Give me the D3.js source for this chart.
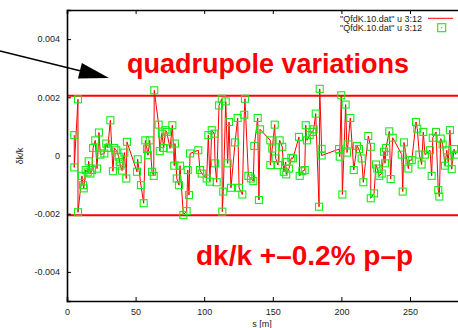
<!DOCTYPE html>
<html>
<head>
<meta charset="utf-8">
<script src="https://cdn.jsdelivr.net/npm/d3@7"></script>
<style>
  html, body { margin: 0; padding: 0; background: #fff; }
  svg { display: block; font-family: "Liberation Sans", Arial, Helvetica, sans-serif; }
</style>
</head>
<body>
<svg id="chart" width="458" height="328"></svg>
<script>
// Longitudinal position s [m] of each quadrupole
const sPos = [
  5.3, 5.3, 8.0, 8.0, 10.9, 11.7, 12.2, 13.6, 15.1, 15.8, 17.0, 18.2, 19.0, 20.6, 21.9, 23.3, 24.3, 27.2, 28.6, 29.7,
  31.6, 33.5, 34.5, 35.9, 37.7, 38.4, 38.9, 40.1, 41.8, 43.2, 43.7, 51.0, 51.5, 53.9, 55.9, 57.1, 58.3, 59.0, 60.3, 62.0,
  63.2, 63.6, 66.8, 67.6, 69.2, 70.5, 71.7, 72.7, 75.1, 76.8, 78.2, 78.7, 80.0, 81.6, 82.4, 84.8, 87.2, 88.0, 88.9, 89.7,
  95.7, 96.9, 98.2, 101.8, 103.0, 104.2, 105.5, 107.4, 107.9, 109.1, 110.8, 112.8, 113.2, 113.9, 115.7, 117.1, 118.1, 119.5, 122.5, 124.4,
  125.4, 127.8, 129.2, 129.7, 132.2, 134.1, 135.8, 136.5, 139.0, 139.9, 140.7, 148.2, 148.2, 149.6, 151.4, 152.1, 153.8, 155.0, 156.9, 158.0,
  159.4, 159.8, 161.8, 163.5, 164.7, 169.1, 169.6, 171.5, 173.3, 174.0, 174.9, 176.9, 178.8, 179.8, 181.3, 183.7, 184.2, 185.6, 185.6, 198.3,
  198.8, 199.9, 200.7, 203.1, 204.1, 204.8, 206.5, 209.0, 211.4, 212.8, 214.8, 216.0, 219.6, 221.4, 221.4, 223.8, 225.2, 226.2, 227.6, 229.4,
  231.1, 231.8, 232.5, 234.9, 235.9, 237.4, 244.0, 244.7, 245.6, 248.8, 249.5, 251.3, 254.4, 255.3, 256.8, 258.5, 259.7, 260.9, 264.6, 265.8,
  266.6, 269.0, 270.6, 271.4, 272.4, 273.8, 275.5, 276.8, 277.9, 279.1, 280.4, 282.1, 283.5
];

// Relative gradient error dk/k, in units of 1e-3
const dkk = [
  0.70, -0.41, 1.93, -1.95, -0.70, -1.02, -1.13, -0.50, -0.58, -0.20, -0.62, -0.50, 0.26, 0.52, -0.45, 0.79, 0.03, 0.07, 0.41, 0.26,
  1.21, -0.54, 0.26, 0.18, -0.04, -0.22, -0.35, -0.52, 0.10, -0.79, 0.47, -0.56, -0.13, -1.02, -1.64, 0.52, 0.22, 0.01, 0.52, -0.56,
  -0.70, 2.24, 1.06, 0.15, 0.75, 0.26, 0.87, 0.81, 0.24, 1.04, -0.35, 0.41, -0.79, -1.02, -0.35, -2.04, -1.91, -0.50, -1.36, 0.07,
  0.18, -0.50, -0.62, -0.79, 0.70, -0.90, 0.87, 0.75, -0.27, -0.92, 1.72, 1.95, -1.93, -1.24, 1.86, -0.27, 1.15, -1.11, 0.45, 1.29,
  -1.11, -1.34, 1.40, 1.95, -0.70, -0.79, -0.88, 0.33, 1.29, -1.53, 0.90, 0.52, -0.33, 0.24, 1.06, -0.10, -0.33, 0.52, 0.30, -0.56,
  -0.22, -0.65, -0.45, -0.08, -0.10, 0.64, -0.70, -0.54, -0.50, 1.04, 0.52, 0.70, 0.81, 0.90, 1.44, -1.76, 2.29, 0.23, 0.00, 0.22,
  -0.04, 2.07, -1.34, 1.75, 0.10, 0.38, 1.29, -0.50, 0.33, 0.22, -0.10, -0.92, 0.67, 0.30, -1.47, -1.30, -0.31, -0.45, -0.70, -0.62,
  0.13, -0.27, 0.26, 0.83, -0.81, 0.61, 0.03, -1.24, 0.45, -0.45, -0.16, -0.16, 1.15, 0.92, 0.03, -0.31, 0.81, 0.03, 0.18, -0.70,
  0.61, 0.81, -1.19, -1.41, 0.58, 0.38, -0.35, 0.18, -0.24, 0.87, -0.47, 0.22, 0.03
];

// Tolerance band: +-0.2 % peak-to-peak limits (units of 1e-3)
const bandLimits = [2.05, -2.05];

const xTicks = [0, 50, 100, 150, 200, 250];
const yTicks = [-0.004, -0.002, 0, 0.002, 0.004];
const yTickLabels = ["-0.004", "-0.002", "0", "0.002", "0.004"];
const seriesLabel = "\"QfdK.10.dat\" u 3:12";
const titleText = "quadrupole variations";
const noteText = "dk/k +\u20130.2% p\u2013p";

(function draw() {
  const points = sPos.map((s, i) => ({ s, v: dkk[i] * 1e-3 }));

  const svg = d3.select("#chart");
  const plotLeft = 67, plotTop = 10, plotBottom = 301;

  const x = d3.scaleLinear().domain([0, 290]).range([plotLeft, plotLeft + 290 * 1.372]);
  const y = d3.scaleLinear().domain([-0.005, 0.005]).range([plotBottom, plotTop]);
  const plotRight = x(290);

  const green = "#16ec16";
  const red = "#ff0000";

  // Tolerance lines
  svg.append("g").selectAll("line").data(bandLimits).join("line")
    .attr("x1", plotLeft).attr("x2", plotRight)
    .attr("y1", d => y(d * 1e-3)).attr("y2", d => y(d * 1e-3))
    .attr("stroke", red).attr("stroke-width", 2);

  // Data line
  svg.append("path").datum(points)
    .attr("fill", "none").attr("stroke", red).attr("stroke-width", 1)
    .attr("d", d3.line().x(d => x(d.s)).y(d => y(d.v)));

  // Point markers (open squares)
  const sq = 7;
  svg.append("g").selectAll("rect").data(points).join("rect")
    .attr("x", d => x(d.s) - sq / 2).attr("y", d => y(d.v) - sq / 2)
    .attr("width", sq).attr("height", sq)
    .attr("fill", "none").attr("stroke", green).attr("stroke-width", 1.1);

  // Axes
  const xAxisB = d3.axisBottom(x).tickValues(xTicks).tickSize(-4).tickPadding(8).tickFormat(d3.format("d"));
  const xAxisT = d3.axisTop(x).tickValues(xTicks).tickSize(-4).tickFormat("");
  const yAxisL = d3.axisLeft(y).tickValues(yTicks).tickSize(-4).tickPadding(7)
    .tickFormat((d, i) => yTickLabels[i]);

  function styleAxis(g) {
    g.select(".domain").attr("stroke", "#000").attr("stroke-width", 1.6);
    g.selectAll(".tick line").attr("stroke", "#000").attr("stroke-width", 1);
    g.selectAll(".tick text").attr("fill", "#222").attr("font-size", 9)
      .attr("font-family", "\"Liberation Sans\", Arial, sans-serif");
  }

  svg.append("g").attr("transform", `translate(0,${plotBottom})`).call(xAxisB).call(styleAxis);
  svg.append("g").attr("transform", `translate(0,${plotTop})`).call(xAxisT).call(styleAxis);
  svg.append("g").attr("transform", `translate(${plotLeft},0)`).call(yAxisL).call(styleAxis);

  // Axis titles
  svg.append("text").attr("x", 262).attr("y", 327).attr("text-anchor", "middle")
    .attr("font-size", 9).attr("fill", "#222").text("s [m]");
  svg.append("text").attr("transform", "translate(23,156) rotate(-90)").attr("text-anchor", "middle")
    .attr("font-size", 9).attr("fill", "#222").text("\u03b4k/k");

  // Legend
  const legend = svg.append("g");
  legend.append("text").attr("x", 422).attr("y", 21.5).attr("text-anchor", "end")
    .attr("font-size", 9).attr("fill", "#222").text(seriesLabel);
  legend.append("line").attr("x1", 428).attr("x2", 453).attr("y1", 18.3).attr("y2", 18.3)
    .attr("stroke", red).attr("stroke-width", 1);
  legend.append("text").attr("x", 422).attr("y", 30.8).attr("text-anchor", "end")
    .attr("font-size", 9).attr("fill", "#222").text(seriesLabel);
  legend.append("rect").attr("x", 441.7 - 4).attr("y", 27.7 - 4).attr("width", 8).attr("height", 8)
    .attr("fill", "none").attr("stroke", green).attr("stroke-width", 1.1);
  legend.append("rect").attr("x", 441.2).attr("y", 27.2).attr("width", 1).attr("height", 1).attr("fill", "#666");

  // Annotations
  svg.append("text").attr("x", 127).attr("y", 73).attr("font-size", 27).attr("font-weight", "bold")
    .attr("fill", red).text(titleText);
  svg.append("text").attr("x", 196).attr("y", 265).attr("font-size", 28).attr("font-weight", "bold")
    .attr("fill", red).text(noteText);

  // Arrow pointing at the plot
  const arrowStart = [0, 51], arrowTip = [109, 78];
  const dx = arrowTip[0] - arrowStart[0], dy = arrowTip[1] - arrowStart[1];
  const len = Math.hypot(dx, dy), ux = dx / len, uy = dy / len;
  const headLen = 30, headHalf = 8;
  const bx = arrowTip[0] - ux * headLen, by = arrowTip[1] - uy * headLen;
  svg.append("line").attr("x1", arrowStart[0]).attr("y1", arrowStart[1]).attr("x2", bx).attr("y2", by)
    .attr("stroke", "#000").attr("stroke-width", 1.5);
  svg.append("path")
    .attr("d", `M${arrowTip[0]},${arrowTip[1]} L${bx - uy * headHalf},${by + ux * headHalf} L${bx + uy * headHalf},${by - ux * headHalf} Z`)
    .attr("fill", "#000");
})();
</script>
</body>
</html>
